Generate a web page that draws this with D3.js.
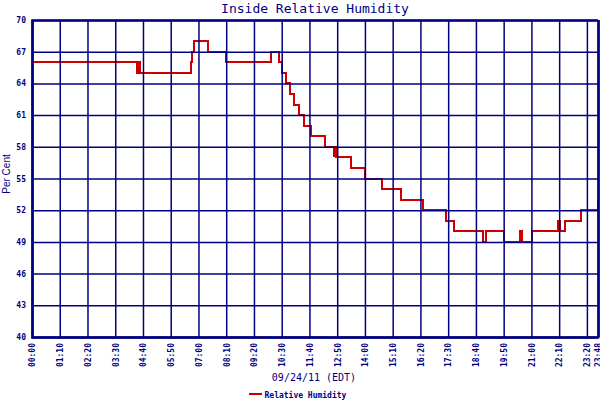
<!DOCTYPE html>
<html>
<head>
<meta charset="utf-8">
<script src="https://cdn.jsdelivr.net/npm/d3@7"></script>
<style>
body { margin: 0; background: #fff; }
svg { display: block; }
</style>
</head>
<body>
<div id="picture"></div>
<script>
// readings (time of change, per cent)
var times = ["00:00", "04:26", "04:30", "04:32", "06:40", "06:44", "06:48", "07:23", "08:09",
    "10:02", "10:23", "10:32", "10:40", "10:52", "11:00", "11:14", "11:26", "11:43", "12:19",
    "12:41", "12:43", "12:47", "13:26", "14:01", "14:43", "15:32", "16:27", "17:25", "17:44",
    "18:58", "19:06", "19:52", "20:30", "20:37", "21:01", "22:07", "22:11", "22:24", "23:04",
    "23:47", "23:48"];
var humidity = [66, 65, 66, 65, 66, 67, 68, 67, 66,
    67, 66, 65, 64, 63, 62, 61, 60, 59, 58,
    57, 58, 57, 56, 55, 54, 53, 52, 51, 50,
    49, 50, 49, 50, 49, 50, 51, 50, 51, 52,
    53, 53];
var xTicks = ["00:00", "01:10", "02:20", "03:30", "04:40", "05:50", "07:00", "08:10", "09:20",
    "10:30", "11:40", "12:50", "14:00", "15:10", "16:20", "17:30", "18:40", "19:50", "21:00",
    "22:10", "23:20", "23:48"];
var yTicks = [40, 43, 46, 49, 52, 55, 58, 61, 64, 67, 70];

var navy = "#000080", red = "#cc0000";
var mono = "'DejaVu Sans Mono', monospace";

function toMin(s) {
    var p = s.split(":");
    return +p[0] * 60 + +p[1];
}
function fmt(m) {
    return d3.format("02d")(Math.floor(m / 60)) + ":" + d3.format("02d")(m % 60);
}

var data = times.map(function (t, i) { return { t: toMin(t), v: humidity[i] }; });

var width = 600, height = 400;
var plotLeft = 32, plotRight = 598, plotTop = 20, plotBottom = 337;

var svg = d3.select("#picture")
    .append("svg")
    .attr("width", width)
    .attr("height", height);

var x = d3.scaleLinear().domain([0, toMin("23:48")]).range([plotLeft, plotRight]);
var y = d3.scaleLinear().domain([40, 70]).range([plotBottom, plotTop]);

var line = d3.line()
    .x(function (d) { return Math.round(x(d.t)); })
    .y(function (d) { return Math.round(y(d.v)); })
    .curve(d3.curveStepAfter);

svg.append("path")
    .datum(data)
    .attr("d", line)
    .attr("fill", "none")
    .attr("stroke", red)
    .attr("stroke-width", 2)
    .attr("shape-rendering", "crispEdges");

// grid drawn over the data, as in the original
var xAxis = d3.axisBottom(x)
    .tickValues(xTicks.map(toMin))
    .tickSize(-(plotBottom - plotTop))
    .tickFormat(fmt);

var gx = svg.append("g")
    .attr("transform", "translate(0," + plotBottom + ")")
    .call(xAxis);
gx.select(".domain").attr("stroke", navy).attr("stroke-width", 2);
gx.selectAll(".tick line").attr("stroke", navy).attr("stroke-width", 1.5);
gx.selectAll(".tick:last-of-type line").attr("stroke-width", 2.5);
gx.selectAll(".tick text")
    .attr("fill", navy)
    .attr("font-family", mono)
    .attr("font-weight", "bold")
    .attr("font-size", 8)
    .attr("text-anchor", "end")
    .attr("transform", "rotate(-90)")
    .attr("x", -6)
    .attr("y", 0)
    .attr("dy", "0.35em");

var yAxis = d3.axisLeft(y)
    .tickValues(yTicks)
    .tickSize(-(plotRight - plotLeft))
    .tickPadding(6);

var gy = svg.append("g")
    .attr("transform", "translate(" + plotLeft + ",0)")
    .call(yAxis);
gy.select(".domain").attr("stroke", navy).attr("stroke-width", 2.5);
gy.selectAll(".tick line").attr("stroke", navy).attr("stroke-width", 1.5);
gy.selectAll(".tick text")
    .attr("fill", navy)
    .attr("font-family", mono)
    .attr("font-weight", "bold")
    .attr("font-size", 8);

svg.append("text")
    .attr("x", 315)
    .attr("y", 12.5)
    .attr("text-anchor", "middle")
    .attr("font-family", mono)
    .attr("font-size", 13)
    .attr("fill", navy)
    .text("Inside Relative Humidity");

svg.append("text")
    .attr("transform", "translate(9.5,174) rotate(-90)")
    .attr("text-anchor", "middle")
    .attr("font-family", "'Liberation Sans', sans-serif")
    .attr("font-size", 10)
    .attr("fill", navy)
    .text("Per Cent");

svg.append("text")
    .attr("x", 314)
    .attr("y", 381)
    .attr("text-anchor", "middle")
    .attr("font-family", mono)
    .attr("font-size", 10)
    .attr("fill", navy)
    .text("09/24/11 (EDT)");

svg.append("line")
    .attr("x1", 249).attr("x2", 262)
    .attr("y1", 394).attr("y2", 394)
    .attr("stroke", red)
    .attr("stroke-width", 2)
    .attr("shape-rendering", "crispEdges");

svg.append("text")
    .attr("x", 264.5)
    .attr("y", 397.5)
    .attr("font-family", mono)
    .attr("font-weight", "bold")
    .attr("font-size", 8)
    .attr("fill", navy)
    .text("Relative Humidity");
</script>
</body>
</html>
